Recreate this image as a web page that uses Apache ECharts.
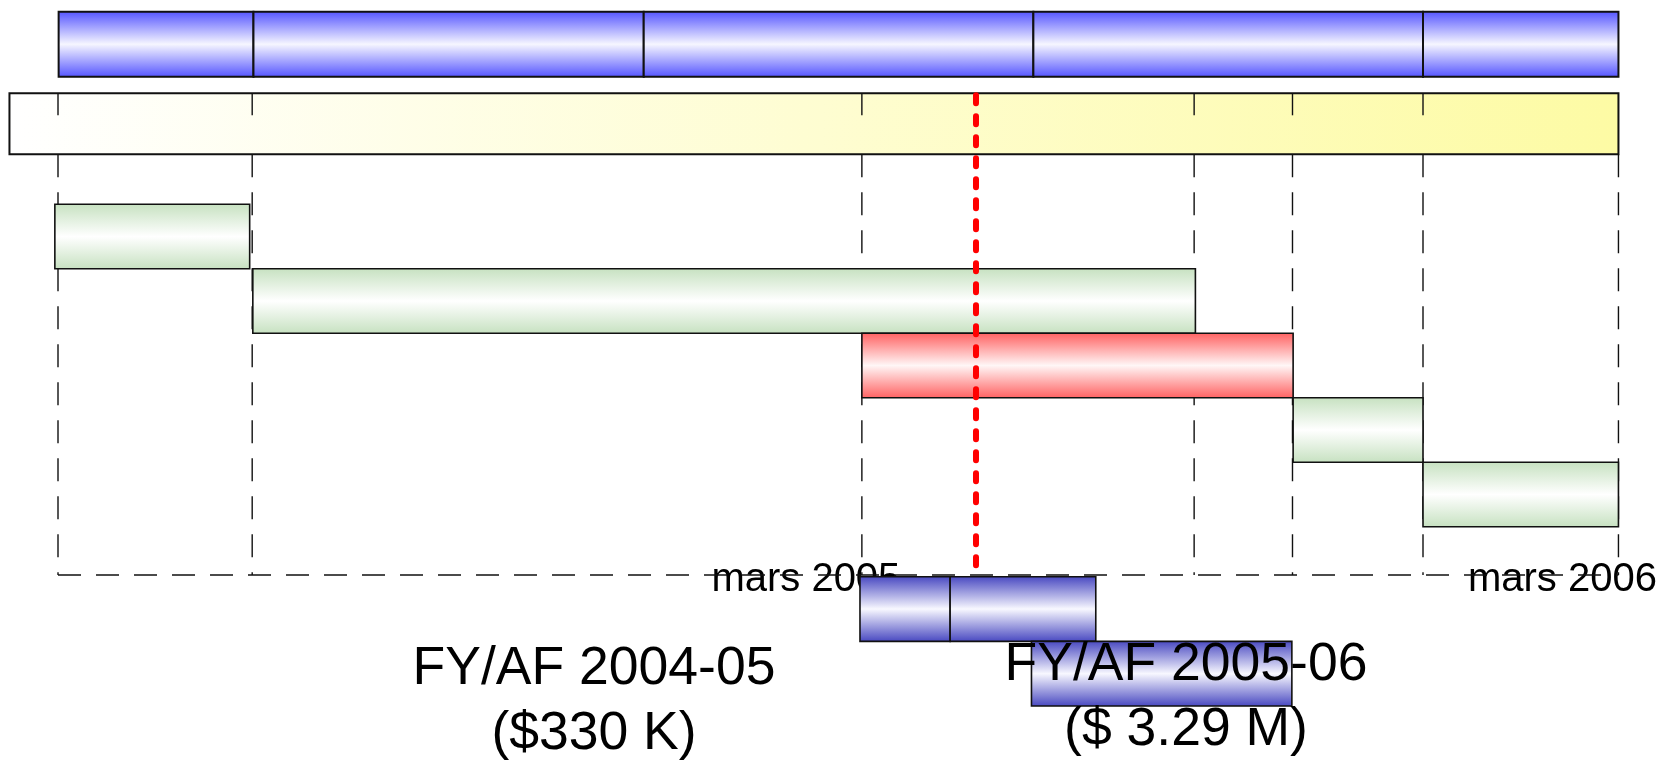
<!DOCTYPE html>
<html>
<head>
<meta charset="utf-8">
<script src="https://cdn.jsdelivr.net/npm/echarts@6/dist/echarts.min.js"></script>
<style>
html, body { margin: 0; padding: 0; background: #ffffff; }
#chart { width: 1667px; height: 760px; }
</style>
</head>
<body>
<div id="chart"></div>
<script>
// x values: months counted from 1 Jan 2004 (14 = mars 2005, 26 = mars 2006)
const phaseStart = [1.26, 4.35, 10.54, 16.72, 22.90];
const phaseEnd   = [4.35, 10.54, 16.72, 22.90, 26.00];

const bandStart = [0.48];
const bandEnd   = [26.00];

const taskNames    = ['t1', 't2', 't3', 't4', 't5'];
const taskStart    = [1.20, 4.34, 14.00, 20.84, 22.90];
const taskEnd      = [4.29, 19.29, 20.84, 22.90, 26.00];
const taskCritical = [0, 0, 1, 0, 0];

const fundNames = ['f1', 'f2'];
const fundRow   = [0, 0, 1];
const fundStart = [13.97, 15.40, 16.69];
const fundEnd   = [15.40, 17.71, 20.82];

const milestones = [1.25, 4.33, 14.00, 19.27, 20.83, 22.90, 26.00];
const todayMark  = [15.81];
const timelineStart = 1.25;
const timelineEnd   = 26.00;

const tickValues = [14, 26];
const tickLabels = ['mars 2005', 'mars 2006'];

const fyLabels = ['FY/AF 2004-05\n($330 K)', 'FY/AF 2005-06\n($ 3.29 M)'];

// ---------------------------------------------------------------
const X_MIN = 0.33, X_MAX = 26.77;
const FONT = '"Liberation Sans", Arial, sans-serif';

function vgrad(edge, mid) {
  return new echarts.graphic.LinearGradient(0, 0, 0, 1, [
    { offset: 0, color: edge }, { offset: 0.5, color: mid }, { offset: 1, color: edge }
  ]);
}

function barRenderer(fillFn, lw) {
  return function (params, api) {
    const row = api.value(2);
    const s = api.coord([api.value(0), row]);
    const e = api.coord([api.value(1), row]);
    const h = api.size([0, 1])[1];
    return {
      type: 'rect',
      shape: { x: s[0], y: s[1] - h / 2, width: e[0] - s[0], height: h },
      style: { fill: fillFn(params.dataIndex), stroke: '#111111', lineWidth: lw }
    };
  };
}

const grids = [
  { left: 0, right: 0, top: 11.7, height: 65 },     // phases
  { left: 0, right: 0, top: 93.3, height: 61 },     // band
  { left: 0, right: 0, top: 204.3, height: 322.4 }, // tasks
  { left: 0, right: 0, top: 576.7, height: 129.3 }, // funding
  { left: 0, right: 0, top: 93.3, height: 481.7 },  // full line area
  { left: 0, right: 0, top: 154.3, height: 420.7 }  // lower line area
].map(g => Object.assign({ outerBoundsMode: 'none', containLabel: false }, g));

const xAxes = grids.map((g, i) => ({
  gridIndex: i, type: 'value', min: X_MIN, max: X_MAX,
  show: i === 4,
  axisLine: { show: false }, axisTick: { show: false }, splitLine: { show: false },
  axisLabel: i === 4 ? {
    show: true,
    customValues: tickValues,
    formatter: v => tickLabels[tickValues.indexOf(v)] || '',
    fontSize: 40, fontFamily: FONT, color: '#000000',
    align: 'center', verticalAlign: 'middle', margin: 5,
    padding: [0, 112, 0, 0], hideOverlap: false
  } : { show: false }
}));

const yAxes = [
  { gridIndex: 0, type: 'category', data: ['phase'], show: false },
  { gridIndex: 1, type: 'category', data: ['band'], show: false },
  { gridIndex: 2, type: 'category', data: taskNames, inverse: true, show: false },
  { gridIndex: 3, type: 'category', data: fundNames, inverse: true, show: false },
  { gridIndex: 4, type: 'value', min: 0, max: 1, show: false },
  { gridIndex: 5, type: 'value', min: 0, max: 1, show: false }
];

const blueFill  = vgrad('#5252ff', '#f6f6ff');
const greenFill = vgrad('#c6e1c0', '#ffffff');
const redFill   = vgrad('#ff6060', '#fff6f6');
const darkBlue  = vgrad('#4646c0', '#f8f8ff');
const bandFill  = new echarts.graphic.LinearGradient(0, 0, 1, 0, [
  { offset: 0, color: '#ffffff' }, { offset: 1, color: '#fdfba4' }
]);

const series = [
  // vertical dashed milestone lines (below the band)
  {
    type: 'custom', xAxisIndex: 5, yAxisIndex: 5, z: 1, silent: true,
    data: milestones.map(v => [v]),
    renderItem: (params, api) => {
      const a = api.coord([api.value(0), 1]);
      const b = api.coord([api.value(0), 0]);
      return { type: 'line', shape: { x1: a[0], y1: a[1], x2: b[0], y2: b[1] },
        style: { stroke: '#111111', lineWidth: 1.4, lineDash: [23, 15] } };
    }
  },
  // horizontal dashed timeline
  {
    type: 'custom', xAxisIndex: 4, yAxisIndex: 4, z: 1, silent: true,
    data: [[timelineStart, timelineEnd]],
    renderItem: (params, api) => {
      const a = api.coord([api.value(0), 0]);
      const b = api.coord([api.value(1), 0]);
      return { type: 'line', shape: { x1: a[0], y1: a[1], x2: b[0], y2: b[1] },
        style: { stroke: '#111111', lineWidth: 1.4, lineDash: [23, 15] } };
    }
  },
  // phases (top blue bar)
  {
    type: 'custom', xAxisIndex: 0, yAxisIndex: 0, z: 2, silent: true,
    data: phaseStart.map((s, i) => [s, phaseEnd[i], 0]),
    encode: { x: [0, 1], y: 2 },
    renderItem: barRenderer(() => blueFill, 2)
  },
  // band
  {
    type: 'custom', xAxisIndex: 1, yAxisIndex: 1, z: 2, silent: true,
    data: bandStart.map((s, i) => [s, bandEnd[i], 0]),
    encode: { x: [0, 1], y: 2 },
    renderItem: barRenderer(() => bandFill, 2)
  },
  // band tick marks
  {
    type: 'custom', xAxisIndex: 1, yAxisIndex: 1, z: 3, silent: true,
    data: milestones.slice(0, -1).map(v => [v, 0]),
    renderItem: (params, api) => {
      const c = api.coord([api.value(0), 0]);
      const h = api.size([0, 1])[1];
      const y0 = c[1] - h / 2;
      return { type: 'line', shape: { x1: c[0], y1: y0, x2: c[0], y2: y0 + 22 },
        style: { stroke: '#111111', lineWidth: 1.4 } };
    }
  },
  // tasks
  {
    type: 'custom', xAxisIndex: 2, yAxisIndex: 2, z: 2, silent: true,
    data: taskStart.map((s, i) => [s, taskEnd[i], i]),
    encode: { x: [0, 1], y: 2 },
    renderItem: barRenderer(i => taskCritical[i] ? redFill : greenFill, 1.6)
  },
  // funding bars
  {
    type: 'custom', xAxisIndex: 3, yAxisIndex: 3, z: 2, silent: true,
    data: fundStart.map((s, i) => [s, fundEnd[i], fundRow[i]]),
    encode: { x: [0, 1], y: 2 },
    renderItem: barRenderer(() => darkBlue, 1.6)
  },
  // today line (red dotted)
  {
    type: 'custom', xAxisIndex: 4, yAxisIndex: 4, z: 6, silent: true,
    data: todayMark.map(v => [v]),
    renderItem: (params, api) => {
      const a = api.coord([api.value(0), 1]);
      const b = api.coord([api.value(0), 0]);
      return { type: 'line', shape: { x1: a[0], y1: a[1] + 2, x2: b[0], y2: b[1] },
        style: { stroke: '#ff0000', lineWidth: 6, lineCap: 'round', lineDash: [8, 13] } };
    }
  }
];

const chart = echarts.init(document.getElementById('chart'), null, { renderer: 'canvas' });
chart.setOption({
  animation: false,
  backgroundColor: '#ffffff',
  grid: grids,
  xAxis: xAxes,
  yAxis: yAxes,
  series: series,
  graphic: [
    { type: 'text', x: 594, y: 701.5, z: 100, silent: true,
      style: { text: fyLabels[0], font: '53.5px ' + FONT, fill: '#000000',
               align: 'center', verticalAlign: 'middle', lineHeight: 65 } },
    { type: 'text', x: 1186, y: 698, z: 100, silent: true,
      style: { text: fyLabels[1], font: '53.5px ' + FONT, fill: '#000000',
               align: 'center', verticalAlign: 'middle', lineHeight: 65 } }
  ]
});
</script>
</body>
</html>
